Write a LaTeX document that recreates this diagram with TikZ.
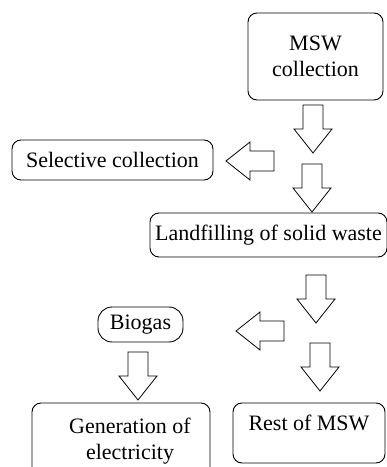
\documentclass[tikz,border=0pt]{standalone}
\usepackage{fontspec}
\setmainfont{Liberation Serif}
\usepackage{tikz}
\usetikzlibrary{positioning}
\tikzset{
	stagebox/.style={draw, line width=0.9pt, rounded corners=9pt, align=center, inner sep=0pt, font=\fontsize{22}{26}\selectfont},
	pics/downblock/.style={code={
		\draw[line width=0.8pt, line join=miter] (-10,0) -- (-10,-24) -- (-19,-24) -- (0,-48) -- (19,-24) -- (10,-24) -- (10,0) -- cycle;
	}}
}

\begin{document}
\begin{tikzpicture}[x=1pt, y=1pt]
		\path[use as bounding box, clip] (0,0) rectangle (387,467);
		% Boxes
		\node[stagebox, minimum width=135, minimum height=87] at (315.5,410.5) (msw) {MSW\\collection};
		\node[stagebox, minimum width=201, minimum height=40] at (112.5,307) (selective) {Selective collection};
		\node[stagebox, minimum width=237, minimum height=44] at (268.5,232) (landfill) {Landfilling of solid waste};
		\node[stagebox, rounded corners=14pt, minimum width=85, minimum height=35] at (140.5,142.5) (biogas) {Biogas};
		\node[stagebox, minimum width=178, minimum height=76] at (121,26) (electricity) {\hspace*{18pt}Generation of\\\hspace*{18pt}electricity};
		\node[stagebox, minimum width=152, minimum height=60, text height=15pt, text depth=21pt] at (309,34) (rest) {Rest of MSW};
		% Block arrows
		\pic at (313,362) {downblock};
		\pic at (312,303) {downblock};
		\pic[rotate=-90] at (274,306) {downblock};
		\pic at (316,192) {downblock};
		\pic[rotate=-90] at (284,136) {downblock};
		\pic at (320,124) {downblock};
		\pic at (138,115) {downblock};
	\end{tikzpicture}
\end{document}
